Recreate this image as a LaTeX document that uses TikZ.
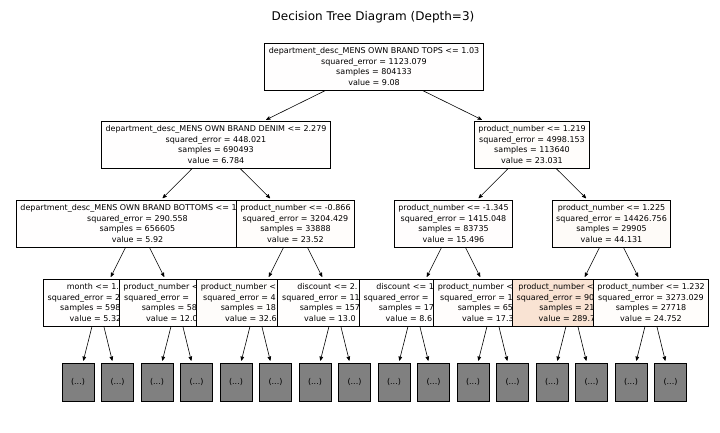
\documentclass[tikz,border=0pt]{standalone}
\usepackage{fontspec}
\setmainfont{DejaVu Sans}
\usetikzlibrary{arrows}
\definecolor{treeorange}{RGB}{229,129,57}
\definecolor{leafgray}{RGB}{128,128,128}
\tikzset{
  treenode/.style={draw=black, line width=0.8pt, align=center, inner xsep=4pt,
    minimum height=47pt, font=\fontsize{8}{10.7}\selectfont},
  leafbox/.style={draw=black, line width=0.8pt, fill=leafgray, minimum width=32pt,
    minimum height=38pt, font=\fontsize{8}{10}\selectfont},
  treeedge/.style={->, >=stealth', line width=0.6pt, shorten >=2pt}
}

\begin{document}
\begin{tikzpicture}[x=1pt, y=-1pt]
\useasboundingbox (0,0) rectangle (720,432);
\node[font=\fontsize{12}{14}\selectfont] (title) at (373,17) {Decision Tree Diagram (Depth=3)};
% depth 0 and 1
\node[treenode, fill=treeorange!0.7!white] (t0) at (374,66.5) {department\_desc\_MENS OWN BRAND TOPS <= 1.03\\squared\_error = 1123.079\\samples = 804133\\value = 9.08};
\node[treenode, fill=treeorange!0.5!white] (t1) at (216,144.5) {department\_desc\_MENS OWN BRAND DENIM <= 2.279\\squared\_error = 448.021\\samples = 690493\\value = 6.784};
\node[treenode, fill=treeorange!1.8!white] (t2) at (532,144.5) {product\_number <= 1.219\\squared\_error = 4998.153\\samples = 113640\\value = 23.031};
% depth 2 (boxes overlap, later ones on top)
\node[treenode, fill=treeorange!0.5!white] (t3) at (137.5,223.5) {department\_desc\_MENS OWN BRAND BOTTOMS <= 1\phantom{.000}\\squared\_error = 290.558\\samples = 656605\\value = 5.92};
\node[treenode, fill=treeorange!1.8!white] (t4) at (295.5,223.5) {product\_number <= -0.866\\squared\_error = 3204.429\\samples = 33888\\value = 23.52};
\node[treenode, fill=treeorange!1.2!white] (t5) at (453.5,223.5) {product\_number <= -1.345\\squared\_error = 1415.048\\samples = 83735\\value = 15.496};
\node[treenode, fill=treeorange!3.4!white] (t6) at (611.5,223.5) {product\_number <= 1.225\\squared\_error = 14426.756\\samples = 29905\\value = 44.131};
% depth 3
\node[treenode, minimum width=110pt, fill=treeorange!0.4!white] (t7) at (98,302.5) {month <= 1.\phantom{00}\\squared\_error = 2\phantom{00.000}\\samples = 598\phantom{000}\\value = 5.32\phantom{0}};
\node[treenode, minimum width=116pt, fill=treeorange!0.9!white] (t8) at (177,302.5) {product\_number <\phantom{= 0.000}\\squared\_error = \phantom{0000.000}\\samples = 58\phantom{000}\\value = 12.0\phantom{00}};
\node[treenode, minimum width=120pt, fill=treeorange!2.5!white] (t9) at (256,302.5) {product\_number <\phantom{= -0.000}\\squared\_error = 4\phantom{000.000}\\samples = 18\phantom{000}\\value = 32.6\phantom{00}};
\node[treenode, minimum width=116pt, fill=treeorange!1.0!white] (t10) at (335,302.5) {discount <= 2.\phantom{000}\\squared\_error = 11\phantom{00.000}\\samples = 157\phantom{00}\\value = 13.0\phantom{00}};
\node[treenode, minimum width=110pt, fill=treeorange!0.7!white] (t11) at (414,302.5) {discount <= 1\phantom{.000}\\squared\_error = \phantom{000.000}\\samples = 17\phantom{000}\\value = 8.6\phantom{00}};
\node[treenode, minimum width=120pt, fill=treeorange!1.3!white] (t12) at (493,302.5) {product\_number <\phantom{= -0.000}\\squared\_error = 1\phantom{000.000}\\samples = 65\phantom{000}\\value = 17.3\phantom{00}};
\node[treenode, minimum width=118pt, fill=treeorange!22!white] (t13) at (572,302.5) {product\_number <\phantom{= 0.000}\\squared\_error = 90\phantom{000.000}\\samples = 21\phantom{00}\\value = 289.7\phantom{00}};
\node[treenode, fill=treeorange!1.9!white] (t14) at (651,302.5) {product\_number <= 1.232\\squared\_error = 3273.029\\samples = 27718\\value = 24.752};
% truncated subtrees
\foreach \i in {0,...,15}
  \node[leafbox] (leaf\i) at ({78+39.5*\i},382) {(...)};
% edges
\foreach \k in {0,...,6}{
  \pgfmathtruncatemacro{\ca}{2*\k+1}
  \pgfmathtruncatemacro{\cb}{2*\k+2}
  \draw[treeedge] (t\k) -- (t\ca);
  \draw[treeedge] (t\k) -- (t\cb);
}
\foreach \k in {7,...,14}{
  \pgfmathtruncatemacro{\ca}{2*(\k-7)}
  \pgfmathtruncatemacro{\cb}{2*(\k-7)+1}
  \draw[treeedge] (t\k) -- (leaf\ca);
  \draw[treeedge] (t\k) -- (leaf\cb);
}
\end{tikzpicture}
\end{document}
